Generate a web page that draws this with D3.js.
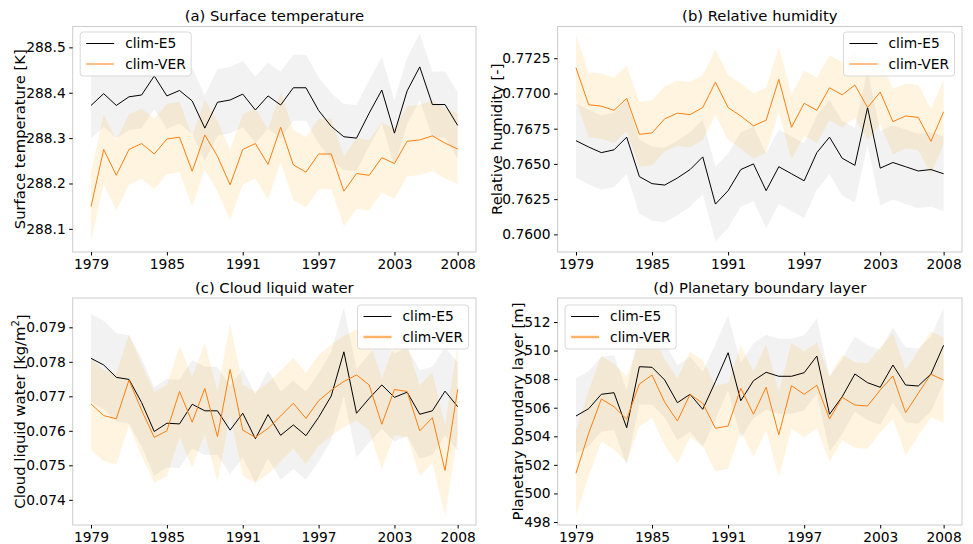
<!DOCTYPE html>
<html>
<head>
<meta charset="utf-8">
<script src="https://cdn.jsdelivr.net/npm/d3@7"></script>
<style>
  body { margin: 0; background: #fff; }
  svg { font-family: "DejaVu Sans", sans-serif; }
</style>
</head>
<body>
<svg id="chart" width="973" height="544"></svg>
<script>
// years on the x axis
const years = [1979,1980,1981,1982,1983,1984,1985,1986,1987,1988,1989,1990,1991,1992,1993,
               1994,1995,1996,1997,1998,1999,2000,2001,2002,2003,2004,2005,2006,2007,2008];
const xTicks = [1979, 1985, 1991, 1997, 2003, 2008];

// (a) surface temperature [K]
const tempE5 = [288.372,288.398,288.372,288.391,288.395,288.437,288.393,288.405,288.382,288.322,
                288.379,288.384,288.397,288.362,288.393,288.373,288.411,288.411,288.361,288.326,
                288.303,288.300,288.355,288.406,288.311,288.404,288.457,288.374,288.374,288.328];
const tempVER = [288.149,288.275,288.218,288.275,288.288,288.265,288.298,288.302,288.227,288.307,
                 288.260,288.197,288.275,288.288,288.242,288.324,288.241,288.225,288.265,288.265,
                 288.183,288.222,288.218,288.257,288.244,288.293,288.296,288.305,288.289,288.276];

// (b) relative humidity [-]
const rhE5 = [0.76665,0.7662,0.7658,0.7660,0.7669,0.7641,0.7636,0.7635,0.7640,0.7646,
              0.7655,0.76215,0.7631,0.7646,0.7650,0.7631,0.7648,0.7643,0.7638,0.7658,
              0.7669,0.7654,0.7649,0.7690,0.7647,0.7651,0.7648,0.7645,0.7646,0.7643];
const rhVER = [0.77182,0.7692,0.7691,0.7688,0.76965,0.7671,0.7672,0.7682,0.7686,0.7685,
               0.7690,0.7708,0.7690,0.7684,0.7677,0.7681,0.7710,0.7676,0.7693,0.7688,
               0.7704,0.7699,0.7706,0.7690,0.7701,0.7680,0.7684,0.7683,0.7666,0.7687];

// (c) cloud liquid water [kg/m2]
const clwE5 = [0.07810,0.07791,0.07755,0.07749,0.07682,0.07598,0.07622,0.07620,0.07677,0.07658,
               0.07658,0.07602,0.07651,0.07577,0.07647,0.07587,0.07617,0.07586,0.07639,0.07701,
               0.07829,0.07651,0.07694,0.07733,0.07697,0.07712,0.07648,0.07658,0.07715,0.07670];
const clwVER = [0.07678,0.07644,0.07635,0.07747,0.07660,0.07581,0.07600,0.07714,0.07625,0.07723,
                0.07583,0.07778,0.07602,0.07581,0.07607,0.07643,0.07680,0.07636,0.07687,0.07718,
                0.07743,0.07762,0.07733,0.07619,0.07720,0.07714,0.07600,0.07638,0.07485,0.07720];

// (d) planetary boundary layer [m]
const pblE5 = [505.42,505.93,506.94,507.05,504.60,508.87,508.83,507.94,506.35,506.94,
               505.89,507.82,509.85,506.49,507.89,508.48,508.20,508.20,508.45,509.62,
               505.54,506.77,508.36,507.75,507.43,508.99,507.59,507.52,508.36,510.37];
const pblVER = [501.41,504.21,506.61,506.07,505.19,507.66,508.29,506.38,505.07,506.94,
                506.31,504.56,504.72,507.36,505.54,507.43,504.11,507.54,506.94,507.57,
                505.21,506.73,506.19,506.12,507.24,508.22,505.65,507.01,508.34,507.94];

// half width of the shaded band, panels a..d
const spreadE5  = [0.073, 0.00264, 0.00128, 2.62];
const spreadVER = [0.0775, 0.00231, 0.00132, 3.0];

const seriesNames = ["clim-E5", "clim-VER"];

const panels = [
  {e5: tempE5, ver: tempVER, title: "(a) Surface temperature", ylab: "Surface temperature [K]",
   box: [72.7, 476, 26.5, 252], ydom: [288.049, 288.546], yticks: [288.1,288.2,288.3,288.4,288.5],
   fmt: d3.format(".1f"), ylabX: 20, legend: "left", legTop: 32, legThick: false},
  {e5: rhE5, ver: rhVER, title: "(b) Relative humidity", ylab: "Relative humidity [-]",
   box: [557.6, 962, 26.5, 252], ydom: [0.75875, 0.77475], yticks: [0.76,0.7625,0.765,0.7675,0.77,0.7725],
   fmt: d3.format(".4f"), ylabX: 497, legend: "right", legTop: 32, legThick: false},
  {e5: clwE5, ver: clwVER, title: "(c) Cloud liquid water", ylab: "Cloud liquid water [kg/m",
   box: [72.7, 476, 298, 525], ydom: [0.07327, 0.07985], yticks: [0.074,0.075,0.076,0.077,0.078,0.079],
   fmt: d3.format(".3f"), ylabX: 20, legend: "right", legTop: 305, legThick: true, sup: true},
  {e5: pblE5, ver: pblVER, title: "(d) Planetary boundary layer", ylab: "Planetary boundary layer [m]",
   box: [557.6, 962, 298, 525], ydom: [497.79, 513.68], yticks: [498,500,502,504,506,508,510,512],
   fmt: d3.format("d"), ylabX: 518, legend: "left", legTop: 305, legThick: true}
];

const svg = d3.select("#chart");

panels.forEach(function(p, k){
  const [x0, x1, y0, y1] = p.box;
  const xScale = d3.scaleLinear().domain([1977.55, 2009.45]).range([x0, x1]);
  const yScale = d3.scaleLinear().domain(p.ydom).range([y1, y0]);
  const g = svg.append("g");

  const area = function(vals, s){
    return d3.area()
      .x(function(d, i){ return xScale(years[i]); })
      .y0(function(d){ return yScale(d - s); })
      .y1(function(d){ return yScale(d + s); })(vals);
  };
  const line = d3.line()
    .x(function(d, i){ return xScale(years[i]); })
    .y(function(d){ return yScale(d); });

  // bands
  g.append("path").attr("d", area(p.e5, spreadE5[k])).attr("fill", "#d3d3d3").attr("fill-opacity", 0.3);
  g.append("path").attr("d", area(p.ver, spreadVER[k])).attr("fill", "#ffa500").attr("fill-opacity", 0.12);

  // lines
  g.append("path").attr("d", line(p.e5)).attr("fill", "none").attr("stroke", "#000").attr("stroke-width", 1);
  g.append("path").attr("d", line(p.ver)).attr("fill", "none").attr("stroke", "#ff7f0e").attr("stroke-width", 1);

  // frame
  g.append("rect").attr("x", x0).attr("y", y0).attr("width", x1 - x0).attr("height", y1 - y0)
    .attr("fill", "none").attr("stroke", "#cccccc").attr("stroke-width", 1);

  // axes
  const xAxis = g.append("g").attr("transform", "translate(0," + y1 + ")")
    .call(d3.axisBottom(xScale).tickValues(xTicks).tickFormat(d3.format("d")).tickSize(3.5).tickPadding(3.5));
  const yAxis = g.append("g").attr("transform", "translate(" + x0 + ",0)")
    .call(d3.axisLeft(yScale).tickValues(p.yticks).tickFormat(p.fmt).tickSize(3.5).tickPadding(3.5));
  [xAxis, yAxis].forEach(function(a){
    a.select(".domain").remove();
    a.selectAll("line").attr("stroke", "#000");
    a.selectAll("text").attr("fill", "#000").style("font-size", "13.8px").style("font-family", "DejaVu Sans");
  });

  // title
  g.append("text").attr("x", (x0 + x1) / 2).attr("y", y0 - 5.5).attr("text-anchor", "middle")
    .style("font-size", "14.8px").text(p.title);

  // y label
  const yl = g.append("text")
    .attr("transform", "translate(" + p.ylabX + "," + (y0 + y1) / 2 + ") rotate(-90)")
    .attr("text-anchor", "middle").attr("dy", "0.35em").style("font-size", "14.8px").text(p.ylab);
  if (p.sup) {
    yl.append("tspan").attr("dy", "-0.6em").style("font-size", "10px").text("2");
    yl.append("tspan").attr("dy", "0.6em").text("]");
  }

  // legend
  const lw = 111, lh = 44;
  const lx = p.legend === "left" ? x0 + 7.5 : x1 - 7.5 - lw;
  const leg = g.append("g").attr("transform", "translate(" + lx + "," + p.legTop + ")");
  leg.append("rect").attr("width", lw).attr("height", lh).attr("rx", 3)
    .attr("fill", "#fff").attr("fill-opacity", 0.8).attr("stroke", "#d9d9d9");
  seriesNames.forEach(function(name, j){
    const yy = 11.5 + j * 20.5;
    const thick = j === 1 && p.legThick;
    leg.append("line").attr("x1", 6).attr("x2", 34).attr("y1", yy).attr("y2", yy)
      .attr("stroke", j === 0 ? "#000" : (thick ? "#ffb366" : "#ff7f0e"))
      .attr("stroke-width", thick ? 2.5 : 1);
    leg.append("text").attr("x", 45).attr("y", yy).attr("dy", "0.36em")
      .style("font-size", "13.8px").text(name);
  });
});
</script>
</body>
</html>
